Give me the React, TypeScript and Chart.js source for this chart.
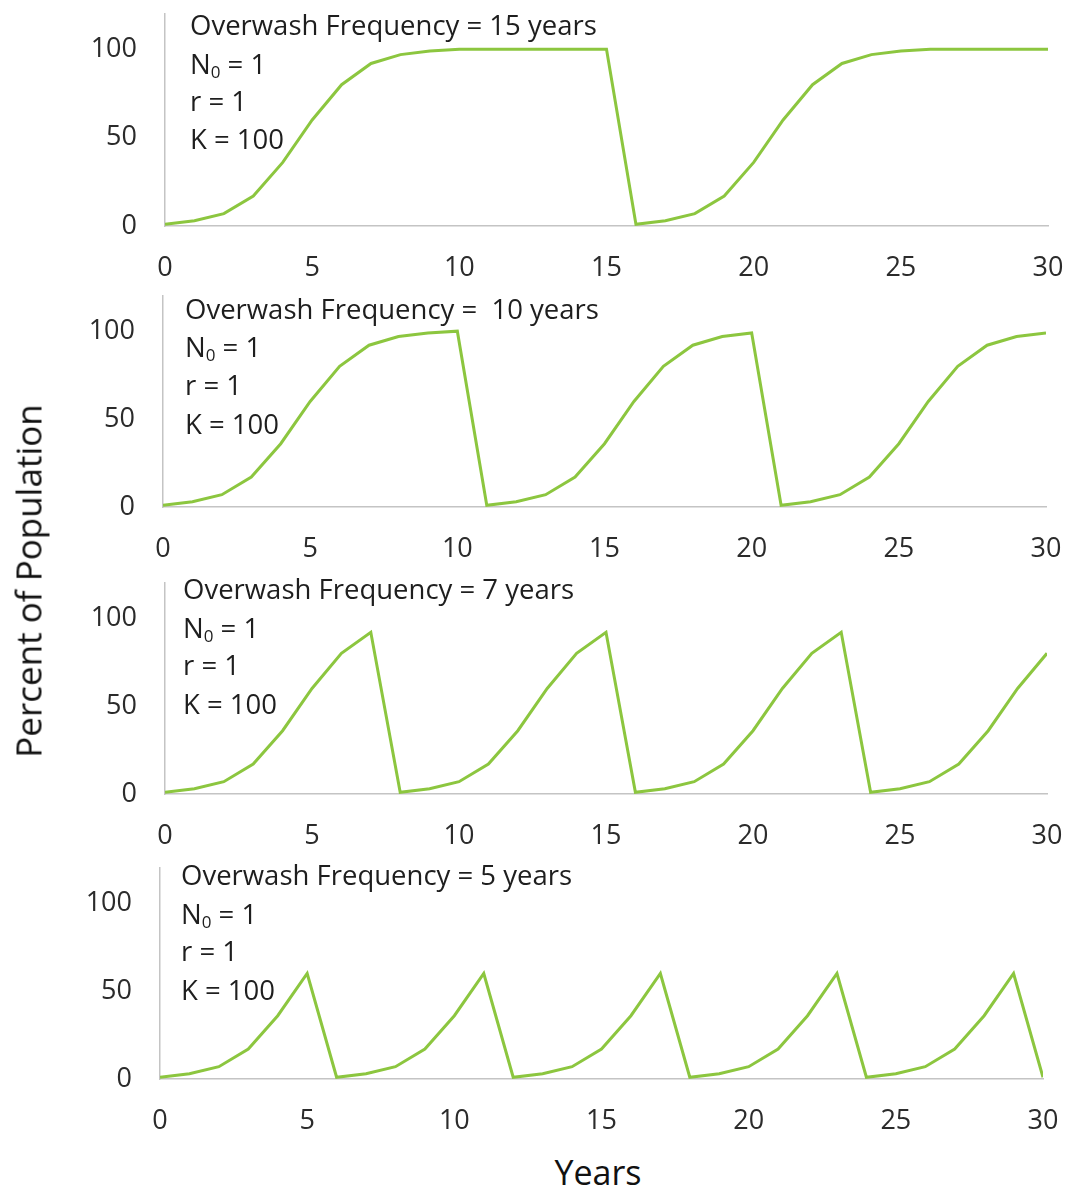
import React, { useEffect, useRef } from 'react';
import { Chart, registerables } from 'chart.js';

Chart.register(...registerables);

// ---- Data ----
const years = [0, 1, 2, 3, 4, 5, 6, 7, 8, 9, 10, 11, 12, 13, 14, 15, 16, 17, 18, 19, 20, 21, 22, 23, 24, 25, 26, 27, 28, 29, 30];
const freq15 = [1, 3, 7, 17, 36, 60, 80, 92, 97, 99, 100, 100, 100, 100, 100, 100, 1, 3, 7, 17, 36, 60, 80, 92, 97, 99, 100, 100, 100, 100, 100];
const freq10 = [1, 3, 7, 17, 36, 60, 80, 92, 97, 99, 100, 1, 3, 7, 17, 36, 60, 80, 92, 97, 99, 1, 3, 7, 17, 36, 60, 80, 92, 97, 99];
const freq7 = [1, 3, 7, 17, 36, 60, 80, 92, 1, 3, 7, 17, 36, 60, 80, 92, 1, 3, 7, 17, 36, 60, 80, 92, 1, 3, 7, 17, 36, 60, 80];
const freq5 = [1, 3, 7, 17, 36, 60, 1, 3, 7, 17, 36, 60, 1, 3, 7, 17, 36, 60, 1, 3, 7, 17, 36, 60, 1, 3, 7, 17, 36, 60, 1];
const xTicks = [0, 5, 10, 15, 20, 25, 30];
const yTicks = [0, 50, 100];
const panelTitles = ['Overwash Frequency = 15 years', 'Overwash Frequency =  10 years', 'Overwash Frequency = 7 years', 'Overwash Frequency = 5 years'];
const paramN0 = '1';
const paramR = '1';
const paramK = '100';
const yAxisTitle = 'Percent of Population';
const xAxisTitle = 'Years';

// ---- Layout / style ----
const W = 1070;
const PAD_TOP = 14;
const X_AXIS_H = 60;
const FONT = "'Open Sans', 'DejaVu Sans', sans-serif";
const LINE_COLOR = '#8CC63F';
const AXIS_COLOR = '#C4C4C4';
const TICK_COLOR = '#2b2b2b';
const NOTE_COLOR = '#1e1e1e';
const TICK_SIZE = 27;
const NOTE_SIZE = 27.5;

const panels = [
  { series: freq15, left: 165, right: 1048, top: 14, bottom: 226, noteX: 25, noteY: [13, 52, 89, 127] },
  { series: freq10, left: 163, right: 1046, top: 296, bottom: 507, noteX: 22, noteY: [15, 53, 91, 130] },
  { series: freq7, left: 165, right: 1047, top: 583, bottom: 794, noteX: 18, noteY: [8, 47, 84, 123] },
  { series: freq5, left: 160, right: 1043, top: 868, bottom: 1079, noteX: 21, noteY: [9, 48, 85, 124] },
];

const notesPlugin = {
  id: 'notes',
  afterDraw(chart: any, _args: any, opts: any) {
    const ctx = chart.ctx;
    const ca = chart.chartArea;
    const x = ca.left + opts.x;
    const ys = opts.ys.map((v: number) => ca.top + v);
    const size = NOTE_SIZE;
    ctx.save();
    ctx.fillStyle = NOTE_COLOR;
    ctx.textBaseline = 'middle';
    ctx.textAlign = 'left';
    ctx.font = `${size}px ${FONT}`;
    ctx.fillText(opts.title, x, ys[0]);
    // N0 = 1 with subscript
    ctx.fillText('N', x, ys[1]);
    const nW = ctx.measureText('N').width;
    ctx.font = `${Math.round(size * 0.62)}px ${FONT}`;
    ctx.fillText('0', x + nW, ys[1] + 7);
    const sW = ctx.measureText('0').width;
    ctx.font = `${size}px ${FONT}`;
    ctx.fillText(' = ' + paramN0, x + nW + sW, ys[1]);
    ctx.fillText('r = ' + paramR, x, ys[2]);
    ctx.fillText('K = ' + paramK, x, ys[3]);
    ctx.restore();
  },
};

function Panel({ idx }: { idx: number }) {
  const ref = useRef<HTMLCanvasElement>(null);
  const p = panels[idx];
  const areaH = p.bottom - p.top;
  const H = PAD_TOP + areaH + X_AXIS_H;
  useEffect(() => {
    if (!ref.current) return;
    const chart = new Chart(ref.current, {
      type: 'line',
      data: {
        datasets: [
          {
            data: years.map((x, i) => ({ x, y: p.series[i] })),
            borderColor: LINE_COLOR,
            borderWidth: 3,
            pointRadius: 0,
            tension: 0,
            fill: false,
          },
        ],
      },
      options: {
        animation: false,
        responsive: false,
        maintainAspectRatio: false,
        layout: { padding: { top: PAD_TOP, left: 0, right: W - p.right, bottom: 0 } },
        plugins: {
          legend: { display: false },
          tooltip: { enabled: false },
          notes: { title: panelTitles[idx], x: p.noteX, ys: p.noteY },
        } as any,
        scales: {
          x: {
            type: 'linear',
            min: 0,
            max: 30,
            grid: { display: false, drawTicks: false },
            border: { display: true, color: AXIS_COLOR, width: 1.5 },
            ticks: { color: TICK_COLOR, font: { family: FONT, size: TICK_SIZE }, padding: 26, maxRotation: 0 },
            afterBuildTicks: (s: any) => {
              s.ticks = xTicks.map((v) => ({ value: v }));
            },
            afterFit: (s: any) => {
              s.height = X_AXIS_H;
              s.paddingLeft = 0;
              s.paddingRight = 0;
            },
          },
          y: {
            min: 0,
            max: 120,
            grid: { display: false, drawTicks: false },
            border: { display: true, color: AXIS_COLOR, width: 1.5 },
            ticks: { color: TICK_COLOR, font: { family: FONT, size: TICK_SIZE }, padding: 28 },
            afterBuildTicks: (s: any) => {
              s.ticks = yTicks.map((v) => ({ value: v }));
            },
            afterFit: (s: any) => {
              s.width = p.left;
              s.paddingTop = 0;
              s.paddingBottom = 0;
            },
          },
        },
      },
      plugins: [notesPlugin],
    } as any);
    return () => chart.destroy();
  }, [idx]);
  return (
    <canvas
      ref={ref}
      width={W}
      height={H}
      style={{ position: 'absolute', left: 0, top: p.top - PAD_TOP, width: W, height: H, display: 'block' }}
    />
  );
}

export default function App() {
  return (
    <div style={{ position: 'absolute', left: 0, top: 0, width: W, height: 1190, background: '#fff', overflow: 'hidden' }}>
      {panels.map((_, i) => (
        <Panel key={i} idx={i} />
      ))}
      <div
        style={{
          position: 'absolute',
          left: 28,
          top: 581,
          transform: 'translate(-50%, -50%) rotate(-90deg)',
          whiteSpace: 'nowrap',
          fontFamily: FONT,
          fontSize: 35,
          color: '#111',
          lineHeight: 1,
        }}
      >
        {yAxisTitle}
      </div>
      <div
        style={{
          position: 'absolute',
          left: 598,
          top: 1172,
          transform: 'translate(-50%, -50%)',
          whiteSpace: 'nowrap',
          fontFamily: FONT,
          fontSize: 34,
          color: '#111',
          lineHeight: 1,
        }}
      >
        {xAxisTitle}
      </div>
    </div>
  );
}
